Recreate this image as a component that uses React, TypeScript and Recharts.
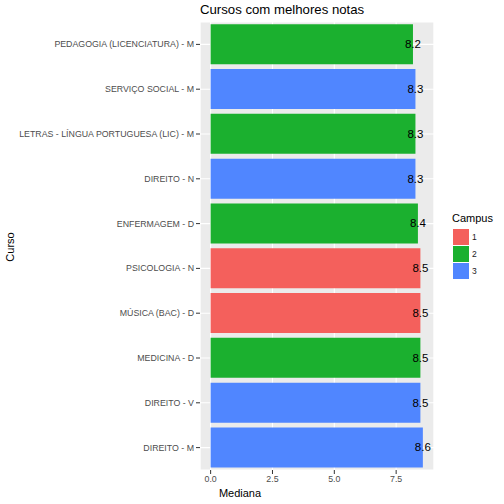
import React from "react";
import {
  Bar,
  BarChart,
  CartesianGrid,
  Cell,
  LabelList,
  XAxis,
  YAxis,
} from "recharts";

const courses = [
  "PEDAGOGIA (LICENCIATURA) - M",
  "SERVIÇO SOCIAL - M",
  "LETRAS - LÍNGUA PORTUGUESA (LIC) - M",
  "DIREITO - N",
  "ENFERMAGEM - D",
  "PSICOLOGIA - N",
  "MÚSICA (BAC) - D",
  "MEDICINA - D",
  "DIREITO - V",
  "DIREITO - M",
];
const medians = [8.18, 8.28, 8.28, 8.28, 8.38, 8.48, 8.48, 8.48, 8.48, 8.58];
const campusOf = ["2", "3", "2", "3", "2", "1", "1", "2", "3", "3"];

const campusLevels = ["1", "2", "3"];
const campusColors: Record<string, string> = {
  "1": "#F4605C",
  "2": "#1BB02F",
  "3": "#5086FF",
};

const majorTicks = [0, 2.5, 5, 7.5];
const minorTicks = [1.25, 3.75, 6.25, 8.75];

const FONT = '"Liberation Sans", Arial, Helvetica, sans-serif';

const data = courses.map((course, i) => ({
  course,
  mediana: medians[i],
  campus: campusOf[i],
}));

function ValueLabel(props: any) {
  const { x, y, width, height, value } = props;
  return (
    <text
      x={x + width}
      y={y + height / 2}
      textAnchor="middle"
      dominantBaseline="central"
      fontSize={11.5}
      fill="#000"
      fontFamily={FONT}
    >
      {Number(value).toFixed(1)}
    </text>
  );
}

function CourseTick(props: any) {
  const { x, y, payload } = props;
  return (
    <text
      x={x}
      y={y}
      textAnchor="end"
      dominantBaseline="central"
      fontSize={8.8}
      fill="#4D4D4D"
      fontFamily={FONT}
    >
      {payload.value}
    </text>
  );
}

function CampusLegend() {
  return (
    <div style={{ position: "absolute", left: 452, top: 212, fontFamily: FONT, color: "#000" }}>
      <div style={{ fontSize: 11, marginBottom: 3, lineHeight: "13px" }}>Campus</div>
      {campusLevels.map(c => (
        <div key={c} style={{ display: "flex", alignItems: "center", height: 17 }}>
          <div style={{ width: 16, height: 16, background: campusColors[c], marginLeft: 1 }} />
          <span style={{ fontSize: 8.5, color: "#1a1a1a", marginLeft: 3 }}>{c}</span>
        </div>
      ))}
    </div>
  );
}

export default function App() {
  return (
    <div style={{ position: "absolute", left: 0, top: 0, width: 504, height: 504, background: "#fff", fontFamily: FONT }}>
      <div style={{ position: "absolute", left: 200, top: 2, fontSize: 13.2, color: "#000" }}>
        Cursos com melhores notas
      </div>
      <div
        style={{
          position: "absolute",
          left: 10,
          top: 247,
          fontSize: 11,
          transform: "translate(-50%, -50%) rotate(-90deg)",
          color: "#000",
        }}
      >
        Curso
      </div>
      <div style={{ position: "absolute", left: 240, top: 487, fontSize: 11, transform: "translateX(-50%)", color: "#000" }}>
        Mediana
      </div>
      <CampusLegend />
      <BarChart
        width={504}
        height={504}
        data={data}
        layout="vertical"
        margin={{ top: 22, right: 70, bottom: 0, left: 0 }}
        barCategoryGap="5%"
      >
        <CartesianGrid xAxisId="minor" horizontal={false} stroke="#fff" strokeWidth={0.6} fill="#EBEBEB" />
        <CartesianGrid stroke="#fff" strokeWidth={1.1} />
        <XAxis
          type="number"
          domain={[-0.43, 9.03]}
          ticks={majorTicks}
          tickFormatter={v => Number(v).toFixed(1)}
          axisLine={false}
          tickSize={4}
          tickMargin={2}
          tickLine={{ stroke: "#333" }}
          tick={{ fontSize: 8.8, fill: "#4D4D4D", fontFamily: FONT }}
          height={34}
        />
        <XAxis xAxisId="minor" type="number" domain={[-0.43, 9.03]} ticks={minorTicks} hide />
        <YAxis
          type="category"
          dataKey="course"
          width={200}
          interval={0}
          axisLine={false}
          tickSize={4}
          tickMargin={2}
          tickLine={{ stroke: "#333" }}
          tick={<CourseTick />}
        />
        <Bar dataKey="mediana" isAnimationActive={false}>
          {data.map((d, i) => (
            <Cell key={i} fill={campusColors[d.campus]} />
          ))}
          <LabelList dataKey="mediana" content={<ValueLabel />} />
        </Bar>
      </BarChart>
    </div>
  );
}
